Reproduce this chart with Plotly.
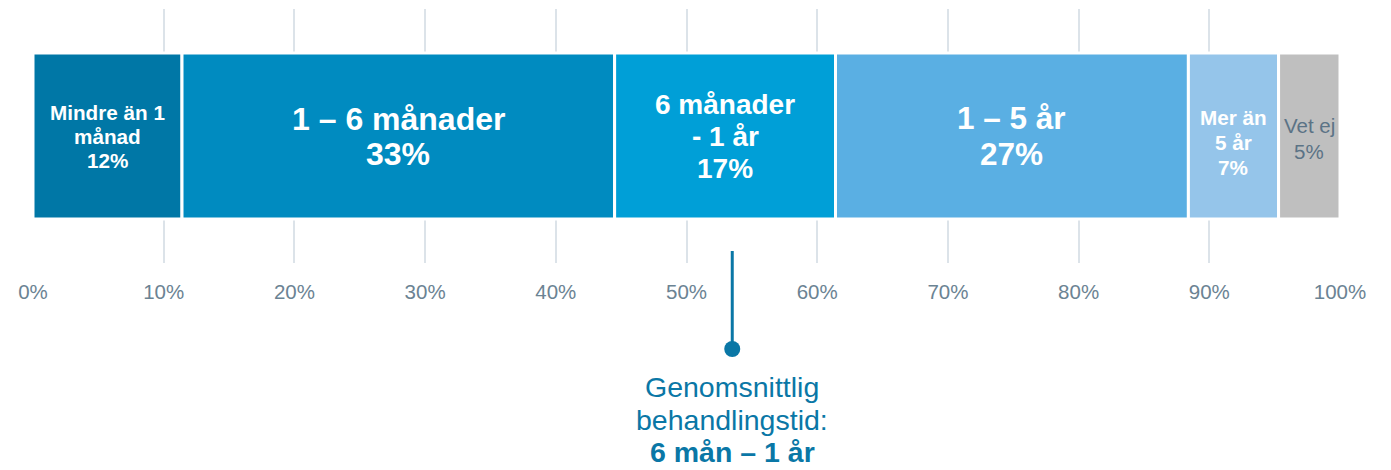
import plotly.graph_objects as go

# ---- data ----
categories = ["Mindre än 1 månad", "1 – 6 månader", "6 månader - 1 år", "1 – 5 år", "Mer än 5 år", "Vet ej"]
shares = [11.4, 33.1, 16.9, 27.0, 6.9, 4.7]          # bar lengths (%)
share_labels = ["12%", "33%", "17%", "27%", "7%", "5%"]
label_lines = [
    ["Mindre än 1", "månad"],
    ["1 – 6 månader"],
    ["6 månader", "- 1 år"],
    ["1 – 5 år"],
    ["Mer än", "5 år"],
    ["Vet ej"],
]
tick_values = [0, 10, 20, 30, 40, 50, 60, 70, 80, 90, 100]
tick_labels = ["0%", "10%", "20%", "30%", "40%", "50%", "60%", "70%", "80%", "90%", "100%"]
average_position = 53.5
average_text = ["Genomsnittlig", "behandlingstid:", "<b>6 mån – 1 år</b>"]

# ---- styles ----
colors = ["#0077a6", "#008bc0", "#009fd7", "#5aafe3", "#95c5ea", "#bfbfbf"]
text_colors = ["white", "white", "white", "white", "white", "#5b7386"]
text_sizes = [20.7, 32, 28, 31.5, 20.7, 20.5]
text_bold = [True, True, True, True, True, False]
line_gaps = [24, 35, 32, 36, 25, 26]
block_offsets = [0, 0, 0, 0, -6, -2]
avg_line_px = [387, 420, 452]
FONT = "Arial, Liberation Sans, sans-serif"
accent = "#0a77a6"
PLOT_TOP, PLOT_H = 9, 254


def paper_y(py):
    return (PLOT_TOP + PLOT_H - py) / PLOT_H


fig = go.Figure()
base = 0.0
mids = []
for cat, val, col in zip(categories, shares, colors):
    fig.add_trace(go.Bar(
        x=[val], y=[0], base=[base], orientation="h", name=cat,
        marker=dict(color=col, line=dict(color="white", width=3)),
        hoverinfo="name+x", showlegend=False,
    ))
    mids.append(base + val / 2)
    base += val

annotations = []
for i, mid in enumerate(mids):
    lines = label_lines[i] + [share_labels[i]]
    n = len(lines)
    for j, t in enumerate(lines):
        txt = f"<b>{t}</b>" if text_bold[i] else t
        shift = ((n - 1) / 2 - j) * line_gaps[i] + block_offsets[i]
        annotations.append(dict(
            x=mid, y=0, xref="x", yref="y", text=txt, showarrow=False,
            yshift=shift, xanchor="center", yanchor="middle",
            font=dict(family=FONT, size=text_sizes[i], color=text_colors[i]),
        ))

for t, py in zip(average_text, avg_line_px):
    annotations.append(dict(
        x=average_position, xref="x", y=paper_y(py), yref="paper",
        text=t, showarrow=False, xanchor="center", yanchor="middle",
        borderpad=0, font=dict(family=FONT, size=28.5, color=accent),
    ))

shapes = [
    dict(type="line", xref="x", yref="paper", x0=average_position, x1=average_position,
         y0=paper_y(251), y1=paper_y(349), line=dict(color=accent, width=3)),
    dict(type="circle", xref="x", yref="paper", xsizemode="pixel", ysizemode="pixel",
         xanchor=average_position, yanchor=paper_y(349), x0=-8, x1=8, y0=-8, y1=8,
         fillcolor=accent, line=dict(width=0)),
]

fig.update_layout(
    width=1391, height=470,
    margin=dict(l=33, r=51, t=PLOT_TOP, b=470 - PLOT_TOP - PLOT_H),
    paper_bgcolor="white", plot_bgcolor="white",
    barmode="overlay", bargap=0.346,
    annotations=annotations, shapes=shapes,
    font=dict(family=FONT),
    xaxis=dict(range=[0, 100], tickvals=tick_values, ticktext=tick_labels,
               showgrid=True, gridcolor="#dce3e9", gridwidth=1.5, zeroline=False,
               showline=False, ticks="", ticklabelstandoff=14,
               tickfont=dict(family=FONT, size=20.5, color="#6b8393"), fixedrange=True),
    yaxis=dict(range=[-0.5, 0.5], showgrid=False, zeroline=False, showticklabels=False,
               fixedrange=True),
)

fig.write_html("out.html", config={"displayModeBar": False},
               post_script="document.body.style.margin='0px';")
